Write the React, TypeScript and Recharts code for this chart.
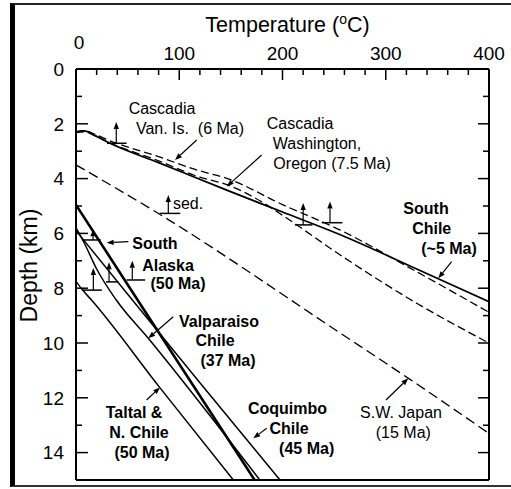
import React from 'react';
import {
  ComposedChart,
  Line,
  XAxis,
  YAxis,
  ReferenceLine,
  ReferenceDot,
} from 'recharts';

const FONT = '"Liberation Sans", Arial, Helvetica, sans-serif';

// axis ticks
const tempTicks = [0, 20, 40, 60, 80, 100, 120, 140, 160, 180, 200, 220, 240, 260, 280, 300, 320, 340, 360, 380, 400];
const tempLabels = [0, 100, 200, 300, 400];
const depthTicks = [0, 1, 2, 3, 4, 5, 6, 7, 8, 9, 10, 11, 12, 13, 14, 15];
const depthLabels = [0, 2, 4, 6, 8, 10, 12, 14];

// geotherms: temperature (°C) vs depth (km)
const waOrSolidT = [0, 8, 18, 33, 80, 146, 200, 256, 330, 400];
const waOrSolidD = [2.3, 2.26, 2.42, 2.71, 3.42, 4.42, 5.22, 6.05, 7.3, 8.49];
const vanIsUpperT = [0, 8, 18, 33, 80, 120, 146, 200, 256, 330, 400];
const vanIsUpperD = [2.3, 2.25, 2.38, 2.62, 3.2, 3.72, 3.99, 4.95, 5.88, 7.4, 8.88];
const vanIsLowerT = [0, 8, 18, 33, 80, 120, 146, 180, 204, 256, 330, 400];
const vanIsLowerD = [2.32, 2.29, 2.43, 2.7, 3.35, 3.95, 4.22, 4.85, 5.44, 6.79, 8.55, 10.0];
const swJapanT = [0, 81, 256, 322, 400];
const swJapanD = [3.5, 5.3, 9.64, 11.29, 13.3];
const alaskaT = [0, 60, 173];
const alaskaD = [4.96, 8.45, 15];
const valparaisoT = [0, 8, 20, 39, 70, 178];
const valparaisoD = [5.8, 6.35, 7.3, 8.43, 9.83, 15];
const coquimboT = [0, 55, 120, 197.6];
const coquimboD = [5.9, 8.45, 11.45, 15];
const taltalT = [0, 6, 15, 81, 152.4];
const taltalD = [7.75, 8.05, 8.43, 11.62, 15];

const pts = (t: number[], d: number[]) => t.map((v, i) => ({ t: v, d: d[i] }));

const geotherms = [
  { id: 'waOr', data: pts(waOrSolidT, waOrSolidD), dash: undefined, w: 1.8 },
  { id: 'vanUp', data: pts(vanIsUpperT, vanIsUpperD), dash: '8 4', w: 1.3 },
  { id: 'vanLo', data: pts(vanIsLowerT, vanIsLowerD), dash: '8 4', w: 1.3 },
  { id: 'swj', data: pts(swJapanT, swJapanD), dash: '10 5', w: 1.3 },
  { id: 'alaska', data: pts(alaskaT, alaskaD), dash: undefined, w: 2.6 },
  { id: 'valp', data: pts(valparaisoT, valparaisoD), dash: undefined, w: 1.5 },
  { id: 'coq', data: pts(coquimboT, coquimboD), dash: undefined, w: 1.5 },
  { id: 'taltal', data: pts(taltalT, taltalD), dash: undefined, w: 1.5 },
];

// label pointers [fromT, fromD, toT, toD]
const pointers = [
  [116.9, 2.59, 95.9, 3.32],
  [179.8, 3.14, 146, 4.29],
  [50.7, 6.3, 29.7, 6.34],
  [94.2, 9.04, 70, 9.83],
  [68.4, 12.08, 81.4, 11.62],
  [184.7, 13.11, 171.7, 13.48],
  [300.2, 12.08, 321.8, 11.29],
  [363.8, 7.03, 350.9, 7.64],
];

// upward arrows standing on short bars
const stepT = [39, 220, 246, 89.4, 16.5, 16.8, 32, 54.5];
const stepBase = [2.71, 5.69, 5.61, 5.27, 6.24, 8.07, 7.77, 7.7];
const stepTop = [1.93, 4.89, 4.84, 4.6, 5.85, 7.26, 7.05, 7.0];
const stepBarL = [30, 212, 238, 81, 6, 6, 29, 49];
const stepBarR = [49, 229, 258, 101, 24, 25, 41, 67];

const labels = [
  { t: 83.3, d: 1.42, text: 'Cascadia', bold: false },
  { t: 110.4, d: 2.15, text: 'Van. Is.  (6 Ma)', bold: false },
  { t: 217, d: 1.97, text: 'Cascadia', bold: false },
  { t: 233.4, d: 2.71, text: 'Washington,', bold: false },
  { t: 248, d: 3.45, text: 'Oregon (7.5 Ma)', bold: false },
  { t: 108.5, d: 4.89, text: 'sed.', bold: false },
  { t: 76.5, d: 6.35, text: 'South', bold: true },
  { t: 89.1, d: 7.15, text: 'Alaska', bold: true },
  { t: 98.8, d: 7.82, text: '(50 Ma)', bold: true },
  { t: 138.5, d: 9.22, text: 'Valparaiso', bold: true },
  { t: 134.6, d: 9.89, text: 'Chile', bold: true },
  { t: 147.2, d: 10.62, text: '(37 Ma)', bold: true },
  { t: 56.2, d: 12.51, text: 'Taltal &', bold: true },
  { t: 61, d: 13.24, text: 'N. Chile', bold: true },
  { t: 63.9, d: 13.97, text: '(50 Ma)', bold: true },
  { t: 204.8, d: 12.38, text: 'Coquimbo', bold: true },
  { t: 206.3, d: 13.11, text: 'Chile', bold: true },
  { t: 223.4, d: 13.84, text: '(45 Ma)', bold: true },
  { t: 314.8, d: 12.51, text: 'S.W. Japan', bold: false },
  { t: 317, d: 13.24, text: '(15 Ma)', bold: false },
  { t: 339, d: 5.08, text: 'South', bold: true },
  { t: 344.5, d: 5.81, text: 'Chile', bold: true },
  { t: 361.3, d: 6.54, text: '(~5 Ma)', bold: true },
];

const TopTick = (props: any) => {
  const { x, y, payload } = props;
  const v = payload.value;
  const major = tempLabels.includes(v);
  return (
    <g>
      <line x1={x} y1={y} x2={x} y2={y + (major ? 11 : 6)} stroke="#000" strokeWidth={1.5} />
      {major && (
        <text x={x + (v === 0 ? 3 : 0)} y={y - (v === 0 ? 20 : 9)} textAnchor="middle"
          fontSize={19} fontFamily={FONT} fill="#000">{v}</text>
      )}
    </g>
  );
};

const BottomTick = (props: any) => {
  const { x, y, payload } = props;
  const major = tempLabels.includes(payload.value);
  return <line x1={x} y1={y} x2={x} y2={y - (major ? 11 : 6)} stroke="#000" strokeWidth={1.5} />;
};

const LeftTick = (props: any) => {
  const { x, y, payload } = props;
  const v = payload.value;
  const major = depthLabels.includes(v);
  return (
    <g>
      <line x1={x} y1={y} x2={x + (major ? 12 : 6)} y2={y} stroke="#000" strokeWidth={1.5} />
      {major && (
        <text x={x - 12} y={y} dy="0.36em" textAnchor="end" fontSize={19} fontFamily={FONT} fill="#000">{v}</text>
      )}
    </g>
  );
};

const RightTick = (props: any) => {
  const { x, y, payload } = props;
  const major = depthLabels.includes(payload.value);
  return <line x1={x} y1={y} x2={x - (major ? 11 : 6)} y2={y} stroke="#000" strokeWidth={1.5} />;
};

const arrowShape = (head: number, sw: number) => (p: any) => {
  const { x1, y1, x2, y2 } = p;
  const a = Math.atan2(y2 - y1, x2 - x1);
  const bx = x2 - head * Math.cos(a);
  const by = y2 - head * Math.sin(a);
  const w = head * 0.38;
  const poly = `${x2},${y2} ${bx + w * Math.sin(a)},${by - w * Math.cos(a)} ${bx - w * Math.sin(a)},${by + w * Math.cos(a)}`;
  return (
    <g>
      <line x1={x1} y1={y1} x2={bx} y2={by} stroke="#000" strokeWidth={sw} />
      <polygon points={poly} fill="#000" />
    </g>
  );
};

const plainShape = (p: any) => (
  <line x1={p.x1} y1={p.y1} x2={p.x2} y2={p.y2} stroke="#000" strokeWidth={1.5} />
);

const TempTitle = (props: any) => {
  const { x, y, width } = props.viewBox;
  return (
    <text x={x + width / 2 + 5} y={y - 36} textAnchor="middle" fontSize={21.5} fontFamily={FONT} fill="#000">
      Temperature (<tspan fontSize={14} dy={-8}>o</tspan><tspan dy={8}>C)</tspan>
    </text>
  );
};

const DepthTitle = (props: any) => {
  const { x, y, height } = props.viewBox;
  const cx = x - 46;
  const cy = y + height / 2 - 9;
  return (
    <text x={cx} y={cy} transform={`rotate(-90 ${cx} ${cy})`} dy="0.35em" textAnchor="middle"
      fontSize={23} fontFamily={FONT} fill="#000">Depth (km)</text>
  );
};

export default function App() {
  return (
    <div style={{ position: 'absolute', left: 0, top: 0, width: 511, height: 489, background: '#fff' }}>
      <div style={{
        position: 'absolute', left: 10, top: 3, width: 501, height: 484, boxSizing: 'border-box',
        borderLeft: '5px solid #000', borderTop: '2px solid #222', borderBottom: '2px solid #333',
      }} />
      <div style={{ position: 'absolute', left: 0, top: 0 }}>
        <ComposedChart width={511} height={489} margin={{ top: 68, left: 75, right: 21, bottom: 8 }}>
          <XAxis xAxisId="top" orientation="top" dataKey="t" type="number" domain={[0, 400]}
            ticks={tempTicks} interval={0} allowDataOverflow height={1} tickSize={0} tickMargin={0}
            tick={<TopTick />} tickLine={false} axisLine={{ stroke: '#000', strokeWidth: 2 }}
            label={<TempTitle />} />
          <XAxis xAxisId="bottom" orientation="bottom" type="number" domain={[0, 400]}
            ticks={tempTicks} interval={0} allowDataOverflow height={1} tickSize={0} tickMargin={0}
            tick={<BottomTick />} tickLine={false} axisLine={{ stroke: '#000', strokeWidth: 2 }} />
          <YAxis yAxisId="left" orientation="left" type="number" domain={[0, 15]} reversed
            ticks={depthTicks} interval={0} allowDataOverflow width={1} tickSize={0} tickMargin={0}
            tick={<LeftTick />} tickLine={false} axisLine={{ stroke: '#000', strokeWidth: 2 }}
            label={<DepthTitle />} />
          <YAxis yAxisId="right" orientation="right" type="number" domain={[0, 15]} reversed
            ticks={depthTicks} interval={0} allowDataOverflow width={1} tickSize={0} tickMargin={0}
            tick={<RightTick />} tickLine={false} axisLine={{ stroke: '#000', strokeWidth: 2 }} />

          {geotherms.map((g) => (
            <Line key={g.id} xAxisId="top" yAxisId="left" data={g.data} dataKey="d" type="monotone"
              stroke="#000" strokeWidth={g.w} strokeDasharray={g.dash} dot={false} activeDot={false}
              isAnimationActive={false} />
          ))}

          {stepT.map((t, i) => (
            <ReferenceLine key={`bar${i}`} xAxisId="top" yAxisId="left"
              segment={[{ x: stepBarL[i], y: stepBase[i] }, { x: stepBarR[i], y: stepBase[i] }]}
              shape={plainShape} />
          ))}
          {stepT.map((t, i) => (
            <ReferenceLine key={`up${i}`} xAxisId="top" yAxisId="left"
              segment={[{ x: t, y: stepBase[i] }, { x: t, y: stepTop[i] }]}
              shape={arrowShape(7, 1.2)} />
          ))}
          {pointers.map((p, i) => (
            <ReferenceLine key={`ptr${i}`} xAxisId="top" yAxisId="left"
              segment={[{ x: p[0], y: p[1] }, { x: p[2], y: p[3] }]}
              shape={arrowShape(7, 1.2)} />
          ))}
          {labels.map((l, i) => (
            <ReferenceDot key={`lab${i}`} xAxisId="top" yAxisId="left" x={l.t} y={l.d} r={0}
              shape={(p: any) => (
                <text x={p.cx} y={p.cy} dy="0.36em" textAnchor="middle" fontSize={16}
                  fontWeight={l.bold ? 'bold' : 'normal'} fontFamily={FONT} fill="#000"
                  style={{ whiteSpace: 'pre' }}>{l.text}</text>
              )} />
          ))}
        </ComposedChart>
      </div>
    </div>
  );
}
